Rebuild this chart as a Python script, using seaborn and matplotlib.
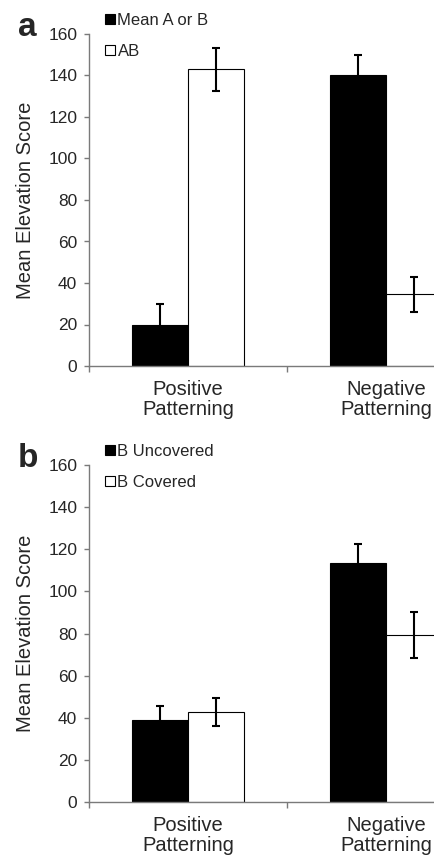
import matplotlib
matplotlib.use("Agg")
import matplotlib.pyplot as plt
import seaborn as sns
import pandas as pd

# values
tasks = ["Positive\nPatterning", "Negative\nPatterning"]

a_labels = ["Mean A or B", "AB"]
a_single = [20, 140]
a_single_err = [10, 10]
a_ab = [143, 34.5]
a_ab_err = [10.3, 8.6]

b_labels = ["B Uncovered", "B Covered"]
b_uncov = [39, 113.7]
b_uncov_err = [6.5, 8.7]
b_cov = [43, 79.4]
b_cov_err = [6.6, 11]

yticks = [0, 20, 40, 60, 80, 100, 120, 140, 160]

sns.set_style("white")
plt.rcParams["font.family"] = ["Liberation Sans", "DejaVu Sans"]

GRAY = "#7a7a7a"


def panel(fig, rect, labels, vals1, err1, vals2, err2, letter):
    ax = fig.add_axes(rect)
    df = pd.DataFrame({
        "task": tasks * 2,
        "score": vals1 + vals2,
        "cond": [labels[0]] * 2 + [labels[1]] * 2,
    })
    sns.barplot(data=df, x="task", y="score", hue="cond", order=tasks,
                hue_order=labels, palette=["black", "white"], edgecolor="black",
                linewidth=0.8, width=0.57, gap=0, errorbar=None, ax=ax)

    # error bars at the bar centres
    for cont, errs in zip(ax.containers, [err1, err2]):
        for bar, e in zip(cont, errs):
            cx = bar.get_x() + bar.get_width() / 2
            ax.errorbar(cx, bar.get_height(), yerr=e, fmt="none", ecolor="black",
                        elinewidth=1.5, capsize=2.8, capthick=1.5, zorder=5)

    ax.set_yticks(yticks)
    ax.set_xticks([-0.5, 0.5, 1.5], minor=True)
    # set limits after the ticks so the right end stays cut off
    ax.set_xlim(-0.5, 1.247)
    ax.set_ylim(0, 160)
    ax.tick_params(axis="x", which="major", length=0, pad=10, labelsize=14.5)
    ax.tick_params(axis="x", which="minor", length=4, width=1, color=GRAY,
                   direction="out", bottom=True)
    ax.tick_params(axis="y", length=3.5, width=1, color=GRAY, direction="out",
                   left=True, pad=5, labelsize=12.5)
    for t in ax.get_xticklabels():
        t.set_linespacing(1.05)
    for s in ["top", "right"]:
        ax.spines[s].set_visible(False)
    for s in ["left", "bottom"]:
        ax.spines[s].set_color(GRAY)
        ax.spines[s].set_linewidth(1)
    ax.set_xlabel("")
    ax.set_ylabel("Mean Elevation Score", fontsize=14.5)
    ax.yaxis.set_label_coords(-0.155, 0.5)

    handles, labs = ax.get_legend_handles_labels()
    top = rect[1] + rect[3]
    ax.legend(handles, labs, loc="upper left", frameon=False, fontsize=12,
              bbox_to_anchor=(105 / 435, top + 21 / 859), bbox_transform=fig.transFigure,
              handlelength=0.6, handleheight=0.6, handletextpad=0.15,
              labelspacing=0.95, borderpad=0, borderaxespad=0)
    fig.text(18 / 435, top - 2 / 859, letter, fontsize=24, fontweight="bold",
             ha="left", va="baseline")
    return ax


fig = plt.figure(figsize=(4.35, 8.59), dpi=100)
panel(fig, [89 / 435, 1 - 366 / 859, 1 - 89 / 435, 332 / 859],
      a_labels, a_single, a_single_err, a_ab, a_ab_err, "a")
panel(fig, [89 / 435, 1 - 802.3 / 859, 1 - 89 / 435, 337.3 / 859],
      b_labels, b_uncov, b_uncov_err, b_cov, b_cov_err, "b")

fig.savefig("out.png", dpi=100)
